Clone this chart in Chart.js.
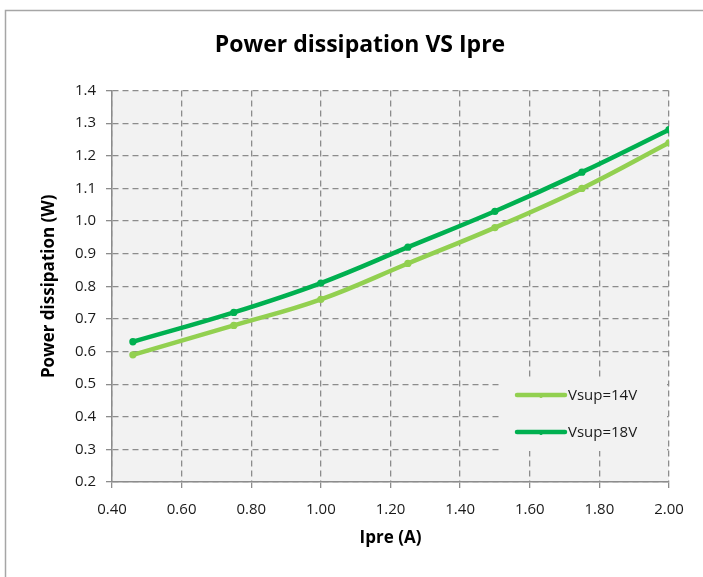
<!DOCTYPE html>
<html>
<head>
<meta charset="utf-8">
<script src="https://cdn.jsdelivr.net/npm/chart.js@4"></script>
<style>
  html, body { margin: 0; padding: 0; background: #fff; overflow: hidden; }
  #wrap { width: 703px; height: 577px; position: relative; }
</style>
</head>
<body>
<div id="wrap"><canvas id="power-chart" width="703" height="577"></canvas></div>
<script>
const ipre = [0.46, 0.75, 1.00, 1.25, 1.50, 1.75, 2.00]
const vsup14 = [0.59, 0.68, 0.76, 0.87, 0.98, 1.10, 1.24]
const vsup18 = [0.63, 0.72, 0.81, 0.92, 1.03, 1.15, 1.28]
const seriesNames = ['Vsup=14V', 'Vsup=18V']
const seriesColors = ['#92D050', '#00B050']

const FONT = '"Open Sans", sans-serif'
const ctx = document.getElementById('power-chart')

function toPoints(values) {
    return ipre.map((x, i) => ({ x: x, y: values[i] }))
}

// grey plot background + outer frame
const backdrop = {
    id: 'backdrop',
    beforeDraw(chart) {
        const c = chart.ctx
        const a = chart.chartArea
        c.save()
        c.fillStyle = '#fff'
        c.fillRect(0, 0, chart.width, chart.height)
        c.strokeStyle = '#a6a6a6'
        c.lineWidth = 1.5
        c.beginPath()
        c.moveTo(5.5, chart.height + 2)
        c.lineTo(5.5, 10.5)
        c.lineTo(chart.width + 2, 10.5)
        c.stroke()
        c.fillStyle = '#f2f2f2'
        c.fillRect(a.left, a.top, a.right - a.left, a.bottom - a.top)
        c.restore()
    }
}

// legend drawn inside the plot, lower right
const insideLegend = {
    id: 'insideLegend',
    afterDatasetsDraw(chart) {
        const c = chart.ctx
        const a = chart.chartArea
        const boxLeft = a.right - 168
        const boxTop = a.bottom - 105
        c.save()
        c.fillStyle = '#f2f2f2'
        c.fillRect(boxLeft, boxTop, 166, 74)
        c.font = '15px ' + FONT
        c.textBaseline = 'middle'
        chart.data.datasets.forEach((ds, i) => {
            const y = boxTop + 18 + i * 37
            c.strokeStyle = ds.borderColor
            c.lineWidth = 4.5
            c.lineCap = 'round'
            c.beginPath()
            c.moveTo(boxLeft + 16, y)
            c.lineTo(boxLeft + 64, y)
            c.stroke()
            c.fillStyle = ds.borderColor
            c.beginPath()
            c.arc(boxLeft + 40, y + 1.5, 1.6, 0, Math.PI * 2)
            c.fill()
            c.fillStyle = '#1a1a1a'
            c.fillText(ds.label, boxLeft + 67, y + 1)
        })
        c.restore()
    }
}

const gridStyle = {
    color: '#8c8c8c',
    lineWidth: 1.3,
    tickLength: 6,
    tickColor: '#8c8c8c',
    tickBorderDash: []
}
const borderStyle = { display: true, color: '#8c8c8c', width: 1.5, dash: [6, 4] }

new Chart(ctx, {
    type: 'line',
    data: {
        datasets: [{
            label: seriesNames[0],
            data: toPoints(vsup14),
            borderColor: seriesColors[0],
            backgroundColor: seriesColors[0],
            borderWidth: 4.5,
            pointRadius: 1.4,
            pointHoverRadius: 1.4,
            tension: 0.4
        }, {
            label: seriesNames[1],
            data: toPoints(vsup18),
            borderColor: seriesColors[1],
            backgroundColor: seriesColors[1],
            borderWidth: 4.5,
            pointRadius: 1.4,
            pointHoverRadius: 1.4,
            tension: 0.4
        }]
    },
    options: {
        responsive: false,
        animation: false,
        devicePixelRatio: 1,
        layout: { padding: { left: 17, right: 0, top: 0, bottom: 0 } },
        plugins: {
            legend: { display: false },
            tooltip: { enabled: false },
            title: {
                display: true,
                text: 'Power dissipation VS Ipre',
                color: '#000',
                font: { family: FONT, size: 23, weight: 'bold' },
                padding: { top: 32, bottom: 31 }
            }
        },
        scales: {
            x: {
                type: 'linear',
                min: 0.4,
                max: 2.0,
                ticks: {
                    stepSize: 0.2,
                    color: '#1a1a1a',
                    padding: 13,
                    font: { family: FONT, size: 15 },
                    callback: v => v.toFixed(2)
                },
                grid: gridStyle,
                border: borderStyle,
                title: {
                    display: true,
                    text: 'Ipre (A)',
                    color: '#000',
                    font: { family: FONT, size: 17, weight: 'bold' },
                    padding: { top: 0, bottom: 29 }
                },
                afterFit(scale) { scale.height = 95 }
            },
            y: {
                min: 0.2,
                max: 1.4,
                ticks: {
                    stepSize: 0.1,
                    color: '#1a1a1a',
                    padding: 10,
                    font: { family: FONT, size: 15 },
                    callback: v => v.toFixed(1)
                },
                grid: gridStyle,
                border: borderStyle,
                title: {
                    display: true,
                    text: 'Power dissipation (W)',
                    color: '#000',
                    font: { family: FONT, size: 17, weight: 'bold' },
                    padding: { top: 22, bottom: 0 }
                },
                afterFit(scale) { scale.width = 95 }
            },
            // empty right-hand strip so the plot ends where the reference does
            spacer: {
                type: 'linear',
                position: 'right',
                display: true,
                grid: { drawOnChartArea: false, drawTicks: false },
                ticks: { display: false },
                border: { display: false },
                afterFit(scale) { scale.width = 34 }
            }
        }
    },
    plugins: [backdrop, insideLegend]
})
</script>
</body>
</html>
